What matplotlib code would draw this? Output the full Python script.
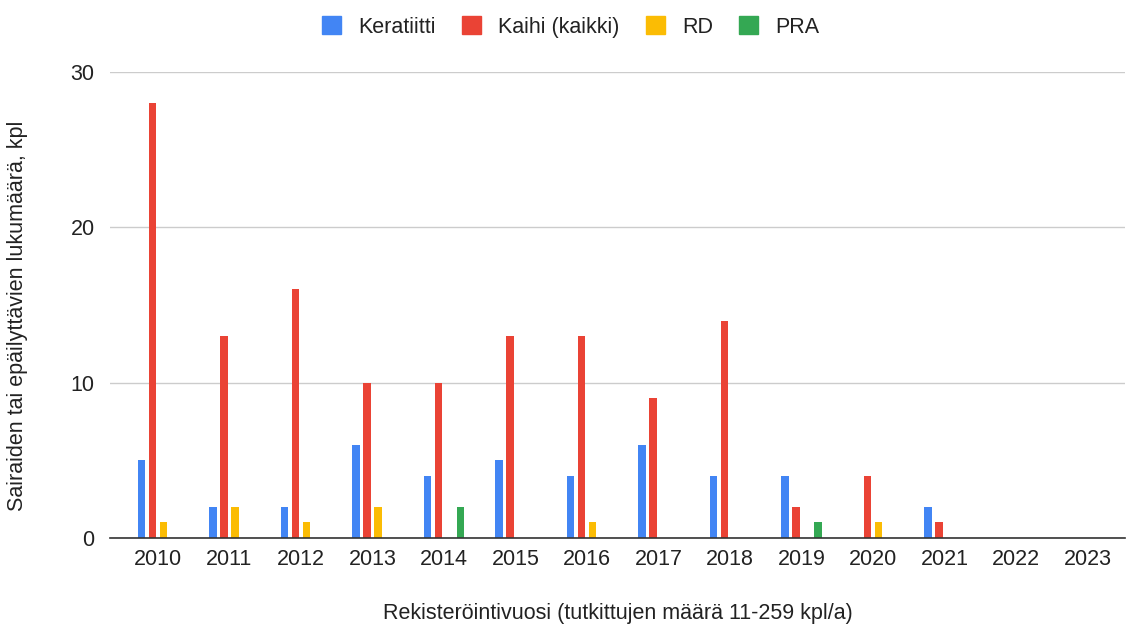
import numpy as np
import matplotlib.pyplot as plt
from matplotlib.patches import Patch

plt.rcParams['font.family'] = ['Liberation Sans', 'DejaVu Sans']

# data
years = ['2010', '2011', '2012', '2013', '2014', '2015', '2016',
         '2017', '2018', '2019', '2020', '2021', '2022', '2023']
keratiitti = [5, 2, 2, 6, 4, 5, 4, 6, 4, 4, 0, 2, 0, 0]
kaihi = [28, 13, 16, 10, 10, 13, 13, 9, 14, 2, 4, 1, 0, 0]
rd = [1, 2, 1, 2, 0, 0, 1, 0, 0, 0, 1, 0, 0, 0]
pra = [0, 0, 0, 0, 2, 0, 0, 0, 0, 1, 0, 0, 0, 0]

series = [('Keratiitti', keratiitti, '#4285F4'),
          ('Kaihi (kaikki)', kaihi, '#EA4335'),
          ('RD', rd, '#FBBC04'),
          ('PRA', pra, '#34A853')]

fs = 15.5
fig = plt.figure(figsize=(11.26, 6.25), dpi=100)
ax = fig.add_axes([0.0977, 0.1392, 0.9013, 0.7456])

x = np.arange(len(years))
slot = 0.154
width = 0.105
for i, (name, vals, col) in enumerate(series):
    ax.bar(x + (i - 1.5) * slot, vals, width, color=col, zorder=3)

ax.set_xlim(-0.67, 13.52)
ax.set_ylim(0, 30)
ax.set_yticks([0, 10, 20, 30])
ax.set_xticks(x)
ax.set_xticklabels(years)
ax.grid(axis='y', color='#cccccc', linewidth=1, zorder=0)
for s in ['top', 'right', 'left']:
    ax.spines[s].set_visible(False)
ax.spines['bottom'].set_color('#333333')
ax.spines['bottom'].set_linewidth(1.2)
ax.spines['bottom'].set_zorder(4)
ax.tick_params(axis='both', length=0, labelsize=fs, colors='#222222', pad=8)
ax.tick_params(axis='y', pad=11)

ax.set_ylabel('Sairaiden tai epäilyttävien lukumäärä, kpl', fontsize=fs,
              color='#222222')
ax.yaxis.set_label_coords(-0.081, 0.476)
ax.set_xlabel('Rekisteröintivuosi (tutkittujen määrä 11-259 kpl/a)', fontsize=fs,
              color='#222222', labelpad=24)

handles = [Patch(facecolor=c, edgecolor=c, label=n) for n, _, c in series]
fig.legend(handles=handles, loc='upper center', bbox_to_anchor=(0.507, 1.005),
           ncol=4, frameon=False, fontsize=fs, handlelength=0.9,
           handleheight=0.9, columnspacing=1.2, handletextpad=0.8,
           labelcolor='#222222')

fig.savefig('out.png', dpi=100)
